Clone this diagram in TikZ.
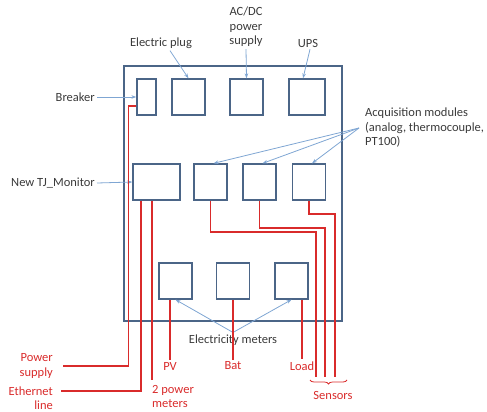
\documentclass[tikz,border=0pt]{standalone}
\usepackage{fontspec}
\setmainfont{Carlito}
\usetikzlibrary{arrows.meta,decorations.pathreplacing}
\definecolor{boxblue}{HTML}{4B6587}
\definecolor{callblue}{HTML}{7FA6D3}
\definecolor{wirered}{HTML}{D92B2B}
\definecolor{txtgray}{HTML}{3A3A3A}

\begin{document}
\begin{tikzpicture}[x=1pt, y=-1pt,
    every node/.style={font=\fontsize{12.5}{14.5}\selectfont, text=txtgray, inner sep=2pt},
    unit/.style={draw=boxblue, line width=1.3pt, minimum height=36pt, minimum width=33pt, inner sep=0pt},
    callout/.style={draw=callblue, line width=0.8pt, -{Stealth[length=5pt,width=3.5pt]}},
    wire/.style={draw=wirered, line width=2.2pt},
    thinwire/.style={draw=wirered, line width=1.2pt},
    redlabel/.style={text=wirered}
]
\useasboundingbox (0,0) rectangle (487,412);

\node[draw=boxblue, line width=1.3pt, minimum width=218pt, minimum height=255pt, inner sep=0pt] (cabinet) at (233,193.5) {};

\node[unit, minimum width=19pt] (brk) at (146.5,97) {};
\node[unit] (plug) at (188.5,97) {};
\node[unit] (acdc) at (246.5,97) {};
\node[unit, minimum width=36pt] (ups) at (307,97) {};

\node[unit, minimum width=47pt] (tjm) at (156.5,182) {};
\node[unit] (acq1) at (210.5,182) {};
\node[unit] (acq2) at (259.5,182) {};
\node[unit] (acq3) at (309,182) {};

\node[unit] (emPV) at (175.5,281) {};
\node[unit] (emBat) at (233,281) {};
\node[unit] (emLoad) at (291.5,281) {};

\node[anchor=east] (lblBrk) at (97,97) {Breaker};
\node (lblPlug) at (161,43) {Electric plug};
\node[align=center] (lblAcdc) at (246,27) {AC/DC\\power\\supply};
\node (lblUps) at (308,43) {UPS};
\node[anchor=east] (lblTjm) at (97,183) {New TJ\_Monitor};
\node[anchor=west, align=left] (lblAcq) at (363,128) {Acquisition modules\\(analog, thermocouple,\\PT100)};
\node (lblEM) at (233,340) {Electricity meters};

\node[redlabel, anchor=east, align=right] (lblPow) at (55,366) {Power\\supply};
\node[redlabel, anchor=east, align=right] (lblEth) at (55,398) {Ethernet\\line};
\node[redlabel, anchor=north west, align=left, inner sep=0pt] (lbl2pm) at (152,385) {2 power\\meters};
\node[redlabel] (lblPV) at (170,366) {PV};
\node[redlabel] (lblBat) at (233,366) {Bat};
\node[redlabel] (lblLoad) at (302,366) {Load};
\node[redlabel] (lblSens) at (333,395) {Sensors};

\draw[callout] (lblBrk.east) -- (brk.west);
\draw[callout] (lblTjm.east) -- (tjm.west);
\draw[callout] ([xshift=9pt]lblPlug.south) -- (plug.north);
\draw[callout] (lblAcdc.south) -- (acdc.north);
\draw[callout] ([xshift=2pt]lblUps.south) -- ([xshift=-4pt]ups.north);
\draw[callout] ([xshift=-4pt]lblAcq.west) -- ([xshift=3pt]acq1.north);
\draw[callout] ([xshift=-4pt]lblAcq.west) -- ([xshift=3pt]acq2.north);
\draw[callout] ([xshift=-4pt]lblAcq.west) -- ([xshift=3pt]acq3.north);
\draw[callout] (lblEM.north) -- (emPV.south);
\draw[callout] (lblEM.north) -- (emLoad.south);

\draw[wire, line width=1.6pt] ([yshift=-9pt]brk.west) -- ++(-8,0) |- ([xshift=8pt]lblPow.east);
\draw[wire] ([xshift=-15.5pt]tjm.south) |- ([xshift=6pt,yshift=7pt]lblEth.east);
\draw[thinwire] (lbl2pm.north west |- tjm.south) -- ([yshift=5pt]lbl2pm.north west);
\draw[wire] (lblPV.north |- emPV.south) -- (lblPV.north);
\draw[wire] (lblBat.north |- emBat.south) -- (lblBat.north);
\draw[wire] (lblLoad.north |- emLoad.south) -- (lblLoad.north);

\coordinate (s1) at (316,377);
\coordinate (s2) at (325,377);
\coordinate (s3) at (335,377);
\draw[wire, line width=1.8pt] (acq1.south) -- ++(0,31) -| (s1);
\draw[wire, line width=1.8pt] (acq2.south) -- ++(0,27) -| (s2);
\draw[wire, line width=1.8pt] (acq3.south) -- ++(0,13) -| (s3);
\draw[wirered, line width=0.8pt, decorate, decoration={brace, mirror, amplitude=4pt}] (310,380) -- (347,380);
\end{tikzpicture}
\end{document}
